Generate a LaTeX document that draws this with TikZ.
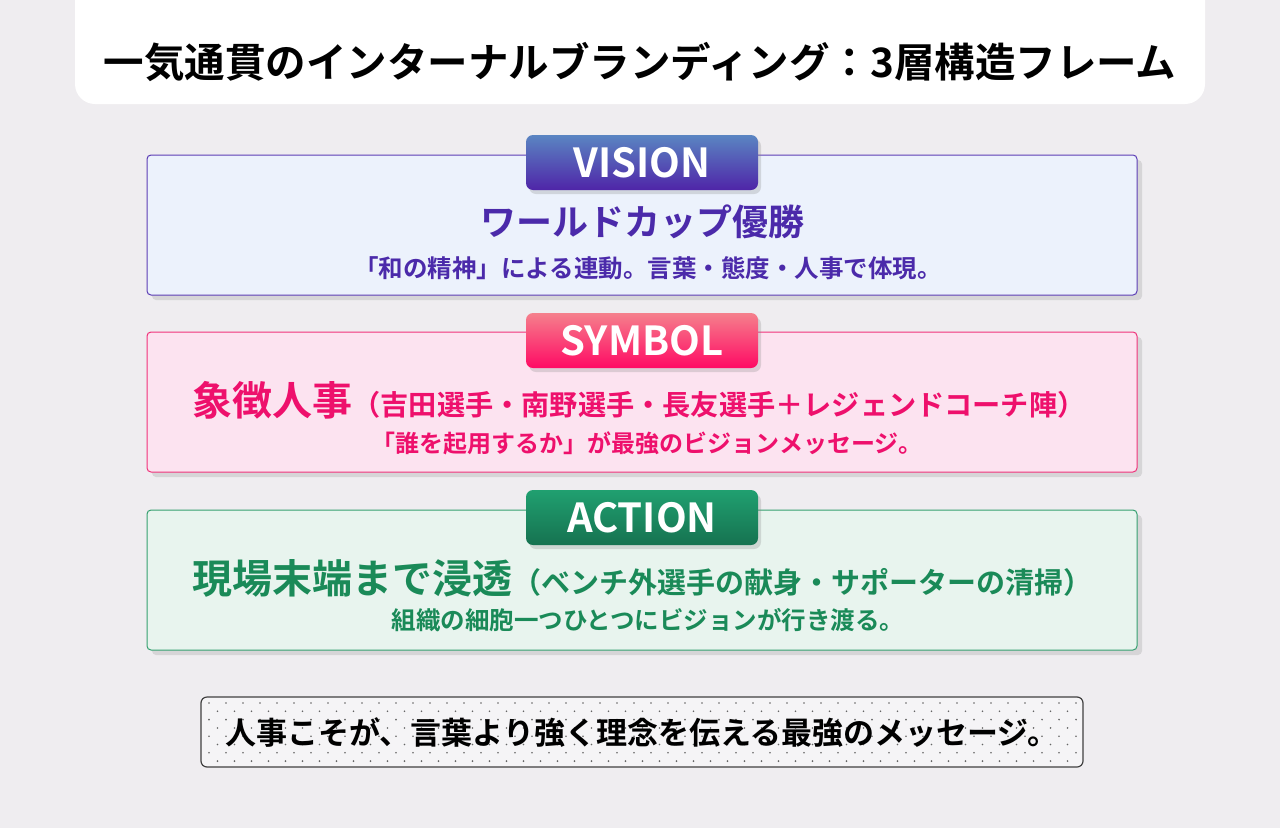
\documentclass[tikz,border=0pt]{standalone}
\usepackage{fontspec}
\setmainfont{Noto Sans CJK JP}[BoldFont=* Bold]
\usetikzlibrary{shadows}
\definecolor{bgcol}{HTML}{EFEDF0}
\definecolor{visiontext}{HTML}{4B2AAA}
\definecolor{visionline}{HTML}{5C3DB5}
\definecolor{visionfill}{HTML}{ECF2FC}
\definecolor{visiontop}{HTML}{5A85C2}
\definecolor{visionbot}{HTML}{4F25A8}
\definecolor{symboltext}{HTML}{EE106C}
\definecolor{symbolline}{HTML}{F0327A}
\definecolor{symbolfill}{HTML}{FCE3F0}
\definecolor{symboltop}{HTML}{F5808C}
\definecolor{symbolbot}{HTML}{FF0A64}
\definecolor{actiontext}{HTML}{1A8A58}
\definecolor{actionline}{HTML}{35A070}
\definecolor{actionfill}{HTML}{E8F4EE}
\definecolor{actiontop}{HTML}{20A070}
\definecolor{actionbot}{HTML}{167250}
\begin{document}
\begin{tikzpicture}[x=1pt,y=-1pt,
    layer/.style={rounded corners=4pt,minimum width=990pt,minimum height=140pt,line width=1pt,drop shadow={opacity=.22,shadow xshift=5pt,shadow yshift=-5pt}},
    badge/.style={rounded corners=7pt,minimum width=232pt,minimum height=55pt,text=white,font=\bfseries\fontsize{40}{42}\selectfont,drop shadow={opacity=.25,shadow xshift=3pt,shadow yshift=-4pt}},
    headline/.style={font=\bfseries,inner sep=0pt},
    subline/.style={font=\bfseries\fontsize{24}{27}\selectfont,inner sep=0pt}]
        \useasboundingbox[fill=bgcol] (0,0) rectangle (1280,828);

        \node[fill=white,rounded corners=20pt,minimum width=1130pt,minimum height=144pt] at (640, 32) (titlebg) {};
        \node[headline,font=\bfseries\fontsize{40.5}{44}\selectfont] at (640, 62) (title) {一気通貫のインターナルブランディング：3層構造フレーム};

        \node[layer,draw=visionline,fill=visionfill] at (642, 225) (vision) {};
        \node[badge,top color=visiontop,bottom color=visionbot] at (642, 162.5) (visionbadge) {VISION};
        \node[headline,text=visiontext,font=\bfseries\fontsize{36}{40}\selectfont] at (642, 222) (visionmain) {ワールドカップ優勝};
        \node[subline,text=visiontext,font=\bfseries\fontsize{24.5}{27}\selectfont] at (648, 268) (visionsub) {「和の精神」による連動。言葉・態度・人事で体現。};

        \node[layer,draw=symbolline,fill=symbolfill] at (642, 402) (symbol) {};
        \node[badge,top color=symboltop,bottom color=symbolbot] at (642, 340.5) (symbolbadge) {SYMBOL};
        \node[headline,text=symboltext] at (639, 400) (symbolmain) {{\fontsize{40}{44}\selectfont 象徴人事}{\fontsize{28.2}{32}\selectfont （吉田選手・南野選手・長友選手＋レジェンドコーチ陣）}};
        \node[subline,text=symboltext] at (647, 443) (symbolsub) {「誰を起用するか」が最強のビジョンメッセージ。};

        \node[layer,draw=actionline,fill=actionfill] at (642, 580) (action) {};
        \node[badge,top color=actiontop,bottom color=actionbot] at (642, 517.5) (actionbadge) {ACTION};
        \node[headline,text=actiontext] at (642, 578) (actionmain) {{\fontsize{40}{44}\selectfont 現場末端まで浸透}{\fontsize{29}{33}\selectfont （ベンチ外選手の献身・サポーターの清掃）}};
        \node[subline,text=actiontext,font=\bfseries\fontsize{24.5}{27}\selectfont] at (648, 620) (actionsub) {組織の細胞一つひとつにビジョンが行き渡る。};

        % dotted message box
        \node[draw=black!75,fill=bgcol!60!white,line width=1.2pt,rounded corners=6pt,minimum width=882pt,minimum height=70pt] at (642, 732) (msgbox) {};
        \begin{scope}
            \clip[rounded corners=6pt] (msgbox.north west) rectangle (msgbox.south east);
            \foreach \r in {0,...,8}
                \foreach \c in {0,...,52}
                    \fill[black!60] ({209+17*\c+8.5*mod(\r,2)}, {703+8.3*\r}) circle (0.9pt);
        \end{scope}
        \node[headline,font=\bfseries\fontsize{31}{35}\selectfont] at (642, 733) (msg) {人事こそが、言葉より強く理念を伝える最強のメッセージ。};
    \end{tikzpicture}
\end{document}
